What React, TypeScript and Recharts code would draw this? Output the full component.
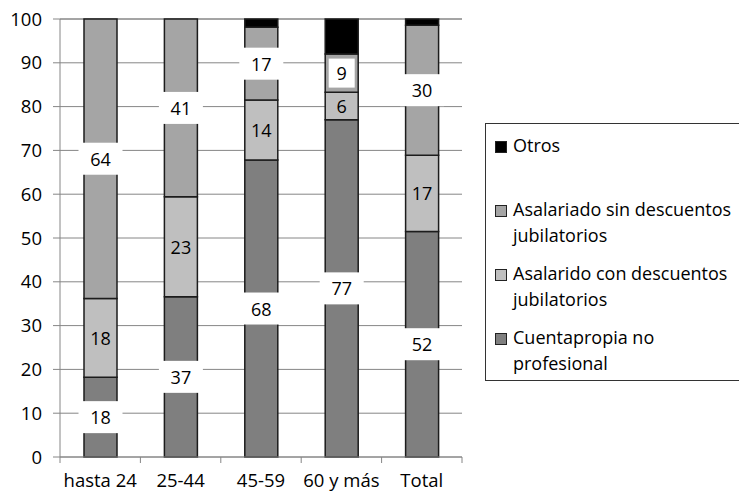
import React from 'react';
import { BarChart, Bar, XAxis, YAxis, CartesianGrid, LabelList, Legend } from 'recharts';

// Distribución por tramo de edad (%), apilada por categoría ocupacional
const categories = ['hasta 24', '25-44', '45-59', '60 y más', 'Total'];
const cuentapropia = [18.2, 36.6, 67.8, 77.0, 51.5];
const asalConDesc = [18.0, 22.8, 13.7, 6.3, 17.4];
const asalSinDesc = [63.8, 40.6, 16.6, 8.7, 29.7];
const otros = [0, 0, 1.9, 8.0, 1.4];
const yTicks = [0, 10, 20, 30, 40, 50, 60, 70, 80, 90, 100];

const NAME_CUENTA = 'Cuentapropia no\nprofesional';
const NAME_CON = 'Asalarido con descuentos\njubilatorios';
const NAME_SIN = 'Asalariado sin descuentos\njubilatorios';
const NAME_OTROS = 'Otros';

// legend lists the series from the top of the stack down
const legendOrder = ['otros', 'sin', 'con', 'cuenta'];

const data = categories.map((cat, i) => ({
  cat,
  cuenta: cuentapropia[i],
  con: asalConDesc[i],
  sin: asalSinDesc[i],
  otros: otros[i],
}));

const FONT = '"Open Sans", sans-serif';
const FS = 18.5;
const AXIS_GRAY = '#868686';
const EDGE = '#1c1c1c';

const CHART_W = 739;
const CHART_H = 493;
const MARGIN = { top: 19, right: 277, bottom: 0, left: 0 };
const Y_AXIS_W = 60;
const PLOT_W = CHART_W - MARGIN.left - MARGIN.right - Y_AXIS_W;
const BAND = PLOT_W / categories.length;

const makeLabel = (boxed: boolean) => (props: any) => {
  const { x, y, width, height, value } = props;
  if (!value) return null;
  const text = String(Math.round(Number(value)));
  const cx = Number(x) + Number(width) / 2;
  const cy = Number(y) + Number(height) / 2;
  const bw = text.length > 1 ? 44 : 26;
  const bh = text.length > 1 ? 32 : 29;
  return (
    <g>
      {boxed && <rect x={cx - bw / 2} y={cy - bh / 2} width={bw} height={bh} fill="#ffffff" />}
      <text
        x={cx}
        y={cy}
        textAnchor="middle"
        dominantBaseline="central"
        fontFamily={FONT}
        fontSize={18}
        fill="#000"
      >
        {text}
      </text>
    </g>
  );
};

const XTick = (props: any) => {
  const { x, y, payload, index } = props;
  const last = index === categories.length - 1;
  return (
    <g>
      <line x1={x - BAND / 2} x2={x - BAND / 2} y1={y} y2={y + 6} stroke={AXIS_GRAY} />
      {last && <line x1={x + BAND / 2} x2={x + BAND / 2} y1={y} y2={y + 6} stroke={AXIS_GRAY} />}
      <text x={x} y={y + 30} textAnchor="middle" fontFamily={FONT} fontSize={FS} fill="#000">
        {payload.value}
      </text>
    </g>
  );
};

const LegendBox = (props: any) => {
  const payload: any[] = props.payload || [];
  const items = legendOrder
    .map((k) => payload.find((p) => p.dataKey === k))
    .filter(Boolean);
  return (
    <div
      style={{
        boxSizing: 'border-box',
        width: 260,
        height: 258,
        border: '1.5px solid #333',
        background: '#fff',
        fontFamily: FONT,
        fontSize: 18,
        color: '#000',
        paddingTop: 8,
        paddingLeft: 9,
      }}
    >
      {items.map((p: any) => (
        <div key={p.dataKey} style={{ height: 64, display: 'flex', alignItems: 'flex-start' }}>
          <div
            style={{
              width: 10,
              height: 10,
              marginTop: 9,
              marginRight: 6,
              background: p.color,
              border: '1px solid #222',
              flexShrink: 0,
            }}
          />
          <div style={{ whiteSpace: 'pre-line', lineHeight: '26px' }}>{p.value}</div>
        </div>
      ))}
    </div>
  );
};

export default function App() {
  return (
    <div style={{ position: 'absolute', left: 0, top: 0, width: CHART_W, height: CHART_H, background: '#fff' }}>
      <BarChart width={CHART_W} height={CHART_H} data={data} margin={MARGIN}>
        <CartesianGrid vertical={false} stroke={AXIS_GRAY} />
        <XAxis
          dataKey="cat"
          height={36}
          stroke={AXIS_GRAY}
          tickLine={false}
          tickSize={0}
          tickMargin={0}
          tick={<XTick />}
          interval={0}
        />
        <YAxis
          width={Y_AXIS_W}
          domain={[0, 100]}
          ticks={yTicks}
          stroke={AXIS_GRAY}
          tickSize={7}
          tickMargin={11}
          tick={{ fontFamily: FONT, fontSize: FS, fill: '#000' }}
          interval={0}
        />
        <Legend
          layout="vertical"
          align="center"
          verticalAlign="middle"
          content={<LegendBox />}
          wrapperStyle={{ position: 'absolute', left: 485, top: 123, width: 260, height: 258 }}
        />
        <Bar dataKey="cuenta" name={NAME_CUENTA} stackId="a" fill="#7f7f7f" stroke={EDGE} strokeWidth={1.5} barSize={33} isAnimationActive={false}>
          <LabelList dataKey="cuenta" content={makeLabel(true)} />
        </Bar>
        <Bar dataKey="con" name={NAME_CON} stackId="a" fill="#bfbfbf" stroke={EDGE} strokeWidth={1.5} barSize={33} isAnimationActive={false}>
          <LabelList dataKey="con" content={makeLabel(false)} />
        </Bar>
        <Bar dataKey="sin" name={NAME_SIN} stackId="a" fill="#a5a5a5" stroke={EDGE} strokeWidth={1.5} barSize={33} isAnimationActive={false}>
          <LabelList dataKey="sin" content={makeLabel(true)} />
        </Bar>
        <Bar dataKey="otros" name={NAME_OTROS} stackId="a" fill="#000000" stroke={EDGE} strokeWidth={1.5} barSize={33} isAnimationActive={false} />
      </BarChart>
    </div>
  );
}
